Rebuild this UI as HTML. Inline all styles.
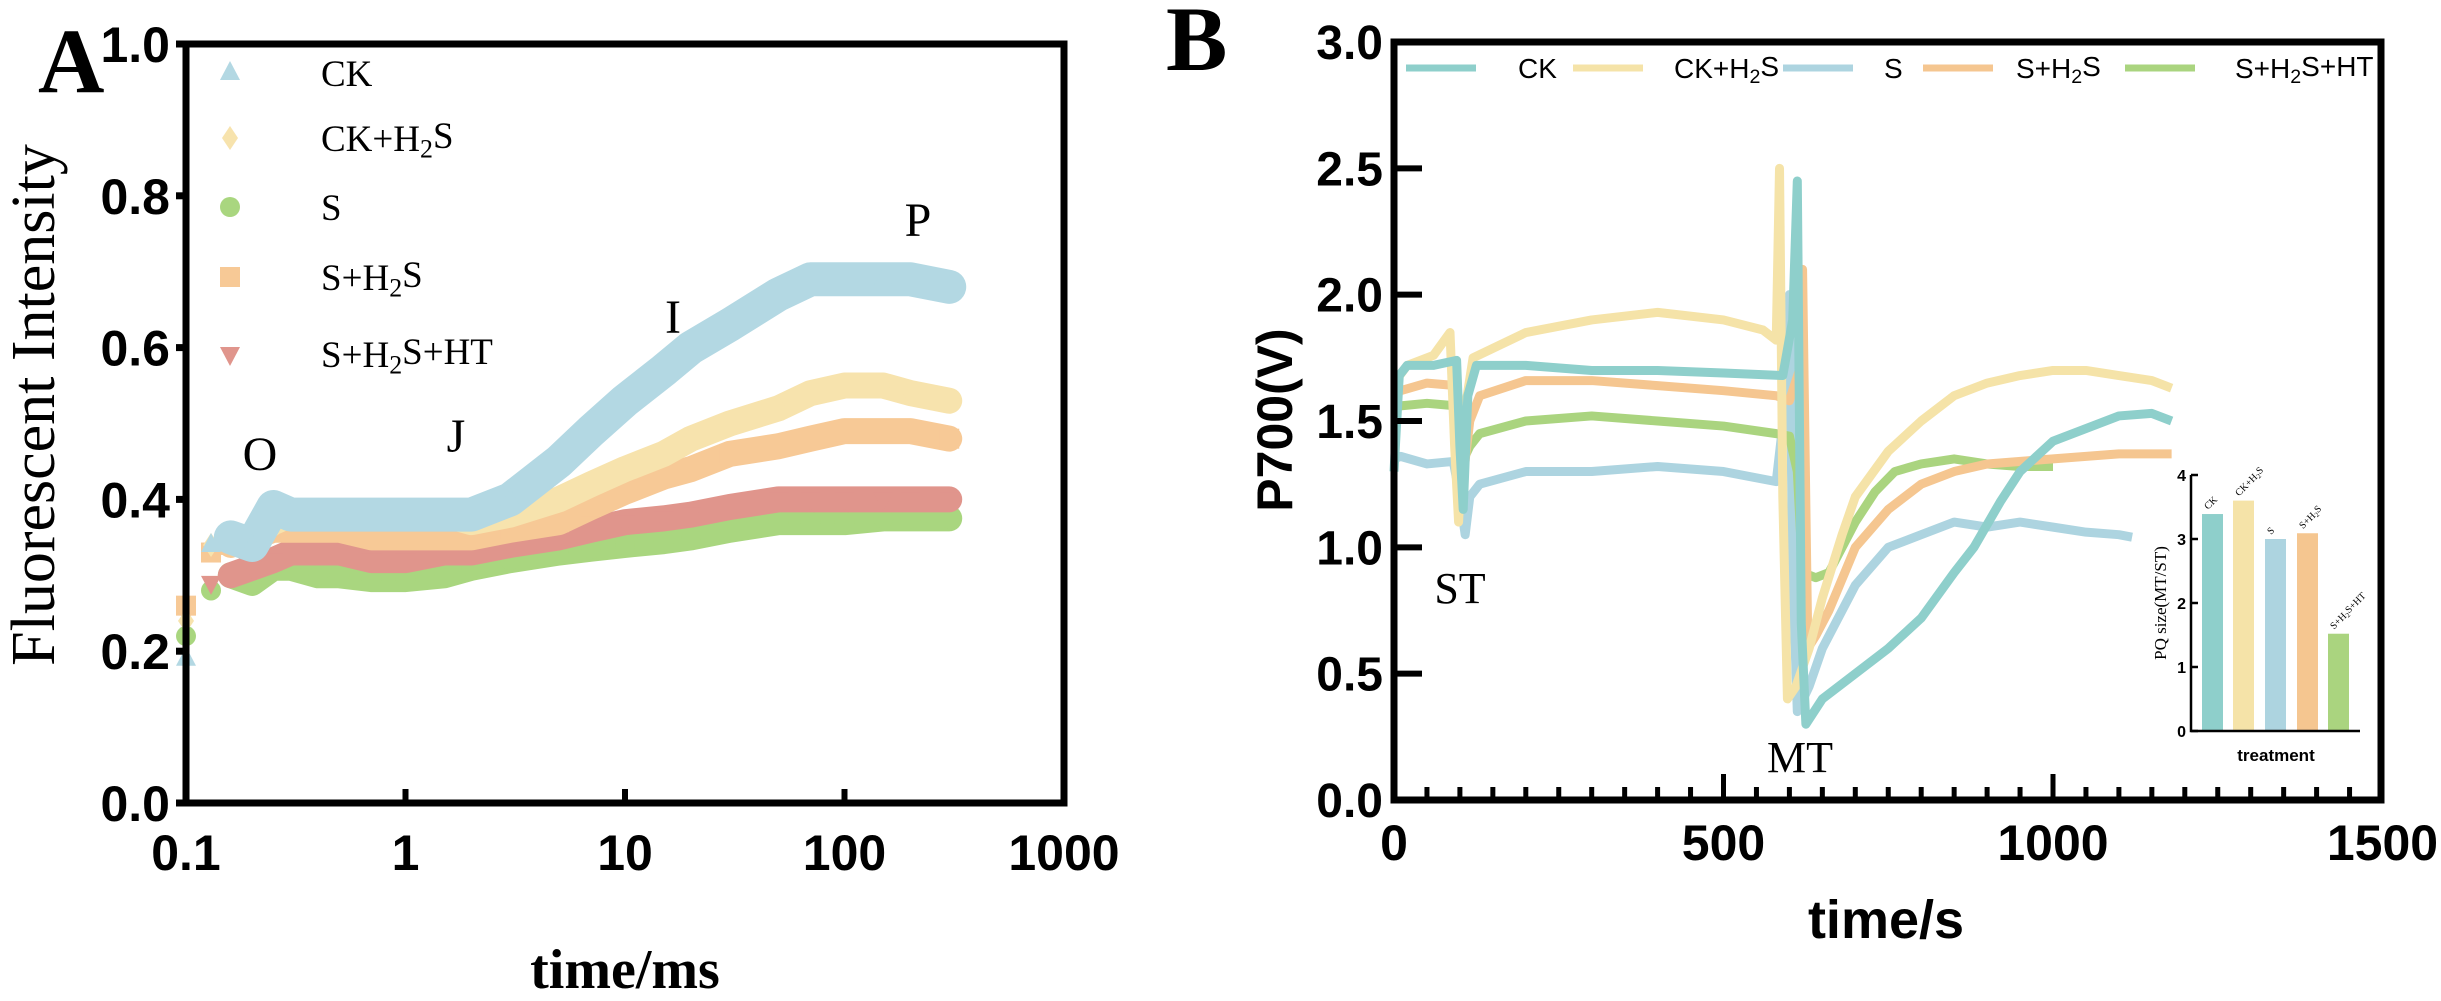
<!DOCTYPE html>
<html><head><meta charset="utf-8"><style>
html,body{margin:0;padding:0;background:#fff;}
svg{display:block;}
.sans{font-family:"Liberation Sans",Arial,sans-serif;}
.serif{font-family:"Liberation Serif","Times New Roman",serif;}
</style></head><body>
<svg id="fig" width="2441" height="1001" viewBox="0 0 2441 1001" xmlns="http://www.w3.org/2000/svg">
<g id="panelA"></g>
<g id="panelB"></g>
<g id="inset"></g>
</svg>
<script>
// ---------- Panel A data ----------
const aTimes = [0.1,0.13,0.16,0.2,0.25,0.3,0.4,0.5,0.7,1,1.5,2,3,5,7,10,15,20,30,50,70,100,150,200,300];
const aCK    = [0.19,0.34,0.35,0.34,0.39,0.38,0.38,0.38,0.38,0.38,0.38,0.38,0.40,0.45,0.49,0.53,0.57,0.60,0.63,0.67,0.69,0.69,0.69,0.69,0.68];
const aCKH2S = [0.24,0.34,0.35,0.35,0.37,0.38,0.38,0.38,0.38,0.38,0.38,0.37,0.38,0.40,0.42,0.44,0.46,0.48,0.50,0.52,0.54,0.55,0.55,0.54,0.53];
const aS     = [0.22,0.28,0.30,0.29,0.31,0.31,0.30,0.30,0.295,0.295,0.30,0.31,0.32,0.33,0.335,0.34,0.345,0.35,0.36,0.37,0.37,0.37,0.375,0.375,0.375];
const aSH2S  = [0.26,0.33,0.34,0.35,0.36,0.36,0.36,0.36,0.35,0.35,0.35,0.35,0.36,0.37,0.39,0.41,0.43,0.44,0.46,0.47,0.48,0.49,0.49,0.49,0.48];
const aHT    = [0.25,0.29,0.30,0.31,0.32,0.33,0.33,0.33,0.32,0.32,0.33,0.33,0.34,0.35,0.36,0.37,0.375,0.38,0.39,0.40,0.40,0.40,0.40,0.40,0.40];
const aXTicks = [0.1,1,10,100,1000];
const aXTickLabels = ["0.1","1","10","100","1000"];
const aYTicks = [0,0.2,0.4,0.6,0.8,1.0];
const aYTickLabels = ["0.0","0.2","0.4","0.6","0.8","1.0"];
const aLegendNames = ["CK","CK+H2S","S","S+H2S","S+H2S+HT"];

// ---------- Panel B data ----------
const bCK_t = [0,8,20,60,95,100,105,112,125,200,300,400,500,590,605,612,618,625,650,700,750,800,850,880,920,950,1000,1050,1100,1150,1180];
const bCK_v = [1.3,1.68,1.72,1.72,1.74,1.4,1.15,1.6,1.72,1.72,1.7,1.7,1.69,1.68,1.9,2.45,0.7,0.3,0.4,0.5,0.6,0.72,0.9,1.0,1.18,1.3,1.42,1.47,1.52,1.53,1.5];
const bCKH_t = [0,20,60,85,92,98,105,120,200,300,400,500,560,580,585,590,597,610,630,650,680,700,750,800,850,900,950,1000,1050,1100,1150,1180];
const bCKH_v = [1.65,1.72,1.76,1.85,1.4,1.1,1.5,1.75,1.85,1.9,1.93,1.9,1.86,1.82,2.5,1.2,0.4,0.45,0.6,0.8,1.05,1.2,1.38,1.5,1.6,1.65,1.68,1.7,1.7,1.68,1.66,1.63];
const bS_t = [0,10,50,90,100,108,115,130,200,300,400,500,580,595,600,605,612,630,650,700,750,800,850,900,950,1000,1050,1100,1120];
const bS_v = [1.35,1.36,1.33,1.34,1.2,1.05,1.2,1.25,1.3,1.3,1.32,1.3,1.26,1.6,2.0,0.9,0.35,0.45,0.6,0.85,1.0,1.05,1.1,1.08,1.1,1.08,1.06,1.05,1.04];
const bSH_t = [0,10,50,95,100,106,115,130,200,300,400,500,580,600,615,620,628,640,660,700,750,800,850,900,1000,1100,1180];
const bSH_v = [1.6,1.62,1.65,1.64,1.5,1.3,1.5,1.6,1.66,1.66,1.64,1.62,1.6,1.58,1.7,2.1,0.6,0.65,0.75,1.0,1.15,1.25,1.3,1.33,1.35,1.37,1.37];
const bHT_t = [0,10,50,95,100,106,115,130,200,300,400,500,580,600,612,620,640,660,680,700,730,760,800,850,900,950,1000];
const bHT_v = [1.55,1.56,1.57,1.56,1.45,1.35,1.4,1.45,1.5,1.52,1.5,1.48,1.45,1.44,1.3,0.9,0.88,0.9,1.0,1.1,1.22,1.3,1.33,1.35,1.33,1.32,1.32];
const bXTicks = [0,500,1000,1500];
const bXTickLabels = ["0","500","1000","1500"];
const bYTicks = [0,0.5,1.0,1.5,2.0,2.5,3.0];
const bYTickLabels = ["0.0","0.5","1.0","1.5","2.0","2.5","3.0"];

// ---------- Inset data ----------
const insetCats = ["CK","CK+H2S","S","S+H2S","S+H2S+HT"];
const insetVals = [3.39,3.6,3.0,3.09,1.52];
const insetYTicks = [0,1,2,3,4];

const colCK="#8ecfcb", colCKH="#f5e3a8", colS="#add4e0", colSH="#f5c690", colHT="#aad47f";
const aCols = ["#b3d8e3","#f7e3ad","#a9d67f","#f7c996","#e0958c"];

const NS="http://www.w3.org/2000/svg";
function mk(tag, attrs, parent, text){
  const e=document.createElementNS(NS,tag);
  for(const k in attrs) e.setAttribute(k,attrs[k]);
  if(text!==undefined) e.textContent=text;
  parent.appendChild(e); return e;
}
function addLabel(el,name){
  const bits=name.split("H2S"); let shifted=false;
  bits.forEach((b,i)=>{
    if(b){const t=document.createElementNS(NS,'tspan'); t.textContent=b; if(shifted){t.setAttribute('dy','-0.25em'); shifted=false;} el.appendChild(t);}
    if(i<bits.length-1){
      const h=document.createElementNS(NS,'tspan'); h.textContent="H"; if(shifted){h.setAttribute('dy','-0.25em'); shifted=false;} el.appendChild(h);
      const two=document.createElementNS(NS,'tspan'); two.textContent="2"; two.setAttribute('font-size','70%'); two.setAttribute('dy','0.25em'); el.appendChild(two);
      const s=document.createElementNS(NS,'tspan'); s.textContent="S"; s.setAttribute('dy','-0.25em'); el.appendChild(s);
    }
  });
}

// ===== Panel A =====
const A = document.getElementById('panelA');
const aL=186, aR=1064, aT=44, aB=803;
const ax = t => aL + (Math.log10(t)+1)*(aR-aL)/4;
const ay = v => aB - v*(aB-aT);
const aSeries=[aS,aHT,aSH2S,aCKH2S,aCK];
const aSeriesCol=[aCols[2],aCols[4],aCols[3],aCols[1],aCols[0]];
const aSeriesName=["s","s-h2s-ht","s-h2s","ck-h2s","ck"];
const aMark=["circle","tridown","square","diamond","triangle"];
function marker(g,type,x,y,r,c){
  let e;
  if(type==="circle") e=mk('circle',{cx:x,cy:y,r:r,fill:c},g);
  else if(type==="square") e=mk('rect',{x:x-r,y:y-r,width:2*r,height:2*r,fill:c},g);
  else if(type==="diamond") e=mk('polygon',{points:`${x},${y-r*1.2} ${x+r*0.8},${y} ${x},${y+r*1.2} ${x-r*0.8},${y}`,fill:c},g);
  else if(type==="triangle") e=mk('polygon',{points:`${x},${y-r*1.2} ${x+r},${y+r*0.7} ${x-r},${y+r*0.7}`,fill:c},g);
  else e=mk('polygon',{points:`${x},${y+r*1.2} ${x+r},${y-r*0.7} ${x-r},${y-r*0.7}`,fill:c},g);
  return e;
}
aSeries.forEach((vals,si)=>{
  const g=mk('g',{},A);
  
  
  const pts=vals.map((v,i)=>ax(aTimes[i])+','+ay(v)).slice(2).join(' ');
  const band=mk('polyline',{points:pts,fill:'none',stroke:aSeriesCol[si],'stroke-width':si===4?34:26,'stroke-linejoin':'round','stroke-linecap':'round'},g);
  
  
  vals.forEach((v,i)=>{
    const m=marker(g,aMark[si],ax(aTimes[i]),ay(v),10,aSeriesCol[si]);
    
    
  });
});
const aFrame=mk('rect',{x:aL,y:aT,width:aR-aL,height:aB-aT,fill:'none',stroke:'#000','stroke-width':7},A);


aXTicks.forEach((t,i)=>{
  if(i>0&&i<aXTicks.length-1){const tk=mk('line',{x1:ax(t),x2:ax(t),y1:aB,y2:aB-14,stroke:'#000','stroke-width':6},A);
  
  }
  const lb=mk('text',{x:ax(t),y:870,'text-anchor':'middle','font-size':50,'font-weight':'bold',class:'sans'},A,aXTickLabels[i]);
  
  
});
aYTicks.forEach((v,i)=>{
  const tk=mk('line',{x1:aL,x2:aL-10,y1:ay(v),y2:ay(v),stroke:'#000','stroke-width':7},A);
  
  
  const lb=mk('text',{x:170,y:ay(v)+18,'text-anchor':'end','font-size':50,'font-weight':'bold',class:'sans'},A,aYTickLabels[i]);
  
  
});
const legOrder=[4,3,0,2,1];
const legY=[73,138,207,277,354];
aLegendNames.forEach((n,i)=>{
  const g=mk('g',{},A);
  
  
  const si=legOrder[i];
  marker(g,aMark[si],230,legY[i],10,aSeriesCol[si]);
  const t=mk('text',{x:321,y:legY[i]+13,'font-size':37,class:'serif'},g);
  addLabel(t,n);
});
[["O",260,470],["J",456,452],["I",673,333],["P",918,236]].forEach(p=>{
  const t=mk('text',{x:p[1],y:p[2],'text-anchor':'middle','font-size':48,class:'serif'},A,p[0]);
  
  
});
const aYT=mk('text',{x:0,y:0,transform:'translate(54,405) rotate(-90)','text-anchor':'middle','font-size':62,class:'serif'},A,'Fluorescent Intensity');


const aXT=mk('text',{x:625,y:988,'text-anchor':'middle','font-size':56,'font-weight':'bold',class:'serif'},A,'time/ms');


const aLet=mk('text',{x:38,y:92,'font-size':92,'font-weight':'bold',class:'serif'},A,'A');



// ===== Panel B =====
const B=document.getElementById('panelB');
const bL=1394, bR=2381, bT=42, bBt=800;
const bx = t => bL + t*(2052-1393)/1000;
const by = v => bBt - v*(bBt-bT)/3;
const bSeries=[[bS_t,bS_v,colS,'s'],[bHT_t,bHT_v,colHT,'s-h2s-ht'],[bSH_t,bSH_v,colSH,'s-h2s'],[bCKH_t,bCKH_v,colCKH,'ck-h2s'],[bCK_t,bCK_v,colCK,'ck']];
bSeries.forEach(s=>{
  const pts=s[0].map((t,i)=>bx(t)+','+by(s[1][i])).join(' ');
  const l=mk('polyline',{points:pts,fill:'none',stroke:s[2],'stroke-width':9,'stroke-linejoin':'round'},B);
  
  
});
const bAx=mk('path',{d:`M${bL},${bT} L${bL},${bBt} L${bR},${bBt} L${bR},${bT} Z`,fill:'none',stroke:'#000','stroke-width':7},B);


for(let t=50;t<1500;t+=50){
  const major=(t%500===0);
  const tk=mk('line',{x1:bx(t),x2:bx(t),y1:bBt,y2:bBt-(major?26:13),stroke:'#000','stroke-width':5},B);
  
  
}
bXTicks.forEach((t,i)=>{
  const lb=mk('text',{x:bx(t),y:860,'text-anchor':'middle','font-size':50,'font-weight':'bold',class:'sans'},B,bXTickLabels[i]);
  
  
});
bYTicks.forEach((v,i)=>{
  const tk=mk('line',{x1:bL,x2:bL+28,y1:by(v),y2:by(v),stroke:'#000','stroke-width':6},B);
  
  
  const lb=mk('text',{x:1383,y:by(v)+17,'text-anchor':'end','font-size':48,'font-weight':'bold',class:'sans'},B,bYTickLabels[i]);
  
  
});
const bYT=mk('text',{x:0,y:0,transform:'translate(1292,420) rotate(-90)','text-anchor':'middle','font-size':50,'font-weight':'bold',class:'sans'},B,'P700(V)');


const bXT=mk('text',{x:1886,y:938,'text-anchor':'middle','font-size':54,'font-weight':'bold',class:'sans'},B,'time/s');


const bLet=mk('text',{x:1166,y:70,'font-size':92,'font-weight':'bold',class:'serif'},B,'B');


[["ST",1460,603],["MT",1800,772]].forEach(p=>{
  const t=mk('text',{x:p[1],y:p[2],'text-anchor':'middle','font-size':44,class:'serif'},B,p[0]);
  
  
});
const bLeg=[["CK",colCK,1406,1518],["CK+H2S",colCKH,1573,1674],["S",colS,1783,1884],["S+H2S",colSH,1923,2016],["S+H2S+HT",colHT,2125,2235]];
bLeg.forEach(e=>{
  const g=mk('g',{},B);
  
  
  mk('line',{x1:e[2],x2:e[2]+70,y1:68,y2:68,stroke:e[1],'stroke-width':7},g);
  const t=mk('text',{x:e[3],y:78,'font-size':28,class:'sans'},g);
  addLabel(t,e[0]);
});

// ===== Inset =====
const I=document.getElementById('inset');
const iL=2191, iR=2360, iT=475, iB=731;
const iy=v=>iB - v*(iB-iT)/4;
const barX=[2202,2233,2265,2297,2328];
const insCols=[colCK,colCKH,colS,colSH,colHT];
insetVals.forEach((v,i)=>{
  const r=mk('rect',{x:barX[i],y:iy(v),width:21,height:iB-iy(v),fill:insCols[i]},I);
  
  
  const cx=barX[i]+6, cy=iy(v)-4;
  const t=mk('text',{x:0,y:0,transform:`translate(${cx},${cy}) rotate(-45)`,'font-size':10,class:'serif'},I);
  
  
  addLabel(t,insetCats[i]);
});
const iAx=mk('path',{d:`M${iL},${iT} L${iL},${iB} L${iR},${iB}`,fill:'none',stroke:'#000','stroke-width':2.5},I);


insetYTicks.forEach(v=>{
  mk('line',{x1:iL,x2:iL+7,y1:iy(v),y2:iy(v),stroke:'#000','stroke-width':2.5},I);
  const lb=mk('text',{x:iL-5,y:iy(v)+6,'text-anchor':'end','font-size':16,'font-weight':'bold',class:'sans'},I,String(v));
  
  
});
const iYT=mk('text',{x:0,y:0,transform:'translate(2166,603) rotate(-90)','text-anchor':'middle','font-size':17,class:'serif'},I,'PQ size(MT/ST)');


const iXT=mk('text',{x:2276,y:761,'text-anchor':'middle','font-size':17,'font-weight':'bold',class:'sans'},I,'treatment');


</script>
</body></html>
